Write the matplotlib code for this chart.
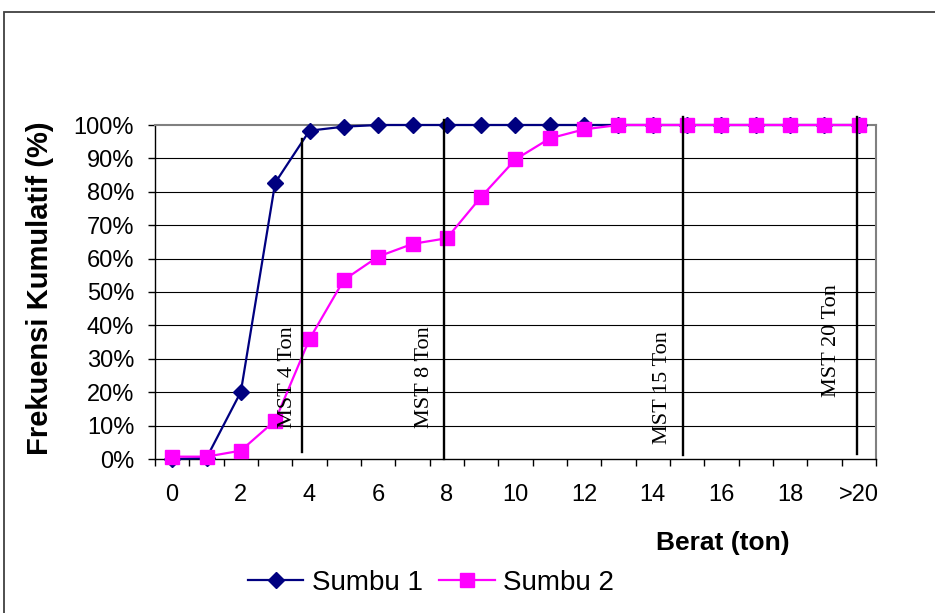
import matplotlib
matplotlib.use("Agg")
import matplotlib.pyplot as plt
from matplotlib.patches import Rectangle
from matplotlib.lines import Line2D
import numpy as np

plt.rcParams['font.family'] = ['Liberation Sans', 'DejaVu Sans']

# Weight classes (ton) and cumulative frequency (%)
categories = ["0", "1", "2", "3", "4", "5", "6", "7", "8", "9", "10",
              "11", "12", "13", "14", "15", "16", "17", "18", "19", ">20"]
sumbu1 = [0.0, 0.3, 20.1, 82.7, 98.3, 99.5, 100, 100, 100, 100, 100,
          100, 100, 100, 100, 100, 100, 100, 100, 100, 100]
sumbu2 = [0.7, 0.7, 2.5, 11.5, 35.9, 53.6, 60.6, 64.4, 66.1, 78.5, 89.7,
          96.0, 98.7, 100, 100, 100, 100, 100, 100, 100, 100]

# Legal axle load limits (MST) marked as vertical lines
mst_labels = ["MST 4 Ton", "MST 8 Ton", "MST 15 Ton", "MST 20 Ton"]
mst_x = [3.77, 7.92, 14.88, 19.94]
mst_y0 = [2.2, 0.0, 1.2, 1.5]
mst_y1 = [95.7, 101.5, 102.5, 102.5]
mst_text_x = [3.37, 7.36, 14.27, 19.21]
mst_text_y = [24.5, 24.5, 21.3, 35.6]

W, H = 935, 613
fig = plt.figure(figsize=(W / 100, H / 100), dpi=100)

# outer chart frame
fig.patches.append(Rectangle((4 / W, -0.05), 1.2, (H - 12) / H + 0.05,
                             transform=fig.transFigure, fill=False,
                             edgecolor='#404040', linewidth=1.3))

ax = fig.add_axes([155 / W, (H - 459) / H, (876 - 155) / W, (459 - 125) / H])
x = np.arange(len(categories))

ax.set_xlim(-0.5, len(categories) - 0.5)
ax.set_ylim(0, 100)

# horizontal gridlines
for yv in range(10, 100, 10):
    ax.axhline(yv, color='black', linewidth=0.8, zorder=1)

ax.plot(x, sumbu1, color='#000080', linewidth=1.6, marker='D', markersize=8.5,
        markerfacecolor='#000080', markeredgecolor='#000080', zorder=3,
        clip_on=False, label='Sumbu 1')
ax.plot(x, sumbu2, color='#FF00FF', linewidth=1.6, marker='s', markersize=10.5,
        markerfacecolor='#FF00FF', markeredgecolor='#FF00FF', zorder=4,
        clip_on=False, label='Sumbu 2')

for lab, xv, y0, y1, tx, ty in zip(mst_labels, mst_x, mst_y0, mst_y1,
                                   mst_text_x, mst_text_y):
    ax.plot([xv, xv], [y0, y1], color='black', linewidth=1.7, zorder=5,
            clip_on=False)
    ax.text(tx, ty, lab, rotation=90, ha='center', va='center',
            fontsize=16, family=['Liberation Serif', 'DejaVu Serif'], zorder=6)

# spines
for s in ['top', 'right']:
    ax.spines[s].set_color('#808080')
    ax.spines[s].set_linewidth(1.5)
for s in ['left', 'bottom']:
    ax.spines[s].set_color('black')
    ax.spines[s].set_linewidth(1.0)

# x axis: boundary tick marks, labels on every second category
ax.set_xticks(np.arange(-0.5, len(categories), 1.0))
ax.set_xticklabels([])
ax.tick_params(axis='x', which='major', direction='out', length=5, width=1)
lab_pos = x[::2]
ax.set_xticks(lab_pos, minor=True)
ax.set_xticklabels([categories[i] for i in lab_pos], minor=True, fontsize=17)
ax.tick_params(axis='x', which='minor', length=0, pad=18)

yt = np.arange(0, 101, 10)
ax.set_yticks(yt)
ax.set_yticklabels([f"{v}%" for v in yt], fontsize=17)
ax.tick_params(axis='y', direction='out', length=5, width=1, pad=10)

fig.text(40 / W, 1 - 288 / H, "Frekuensi Kumulatif (%)", rotation=90,
         ha='center', va='center', fontsize=21, fontweight='bold')
fig.text(723 / W, 1 - 543 / H, "Berat (ton)", ha='center', va='center',
         fontsize=19, fontweight='bold')

handles = [
    Line2D([], [], color='#000080', linewidth=1.6, marker='D', markersize=8.5),
    Line2D([], [], color='#FF00FF', linewidth=1.6, marker='s', markersize=10.5),
]
fig.legend(handles, ['Sumbu 1', 'Sumbu 2'], loc='center',
           bbox_to_anchor=(431 / W, 1 - 583 / H), ncol=2, frameon=False,
           fontsize=20, handlelength=2.0, handletextpad=0.3,
           columnspacing=0.6, borderpad=0)

fig.savefig("out.png", dpi=100)
